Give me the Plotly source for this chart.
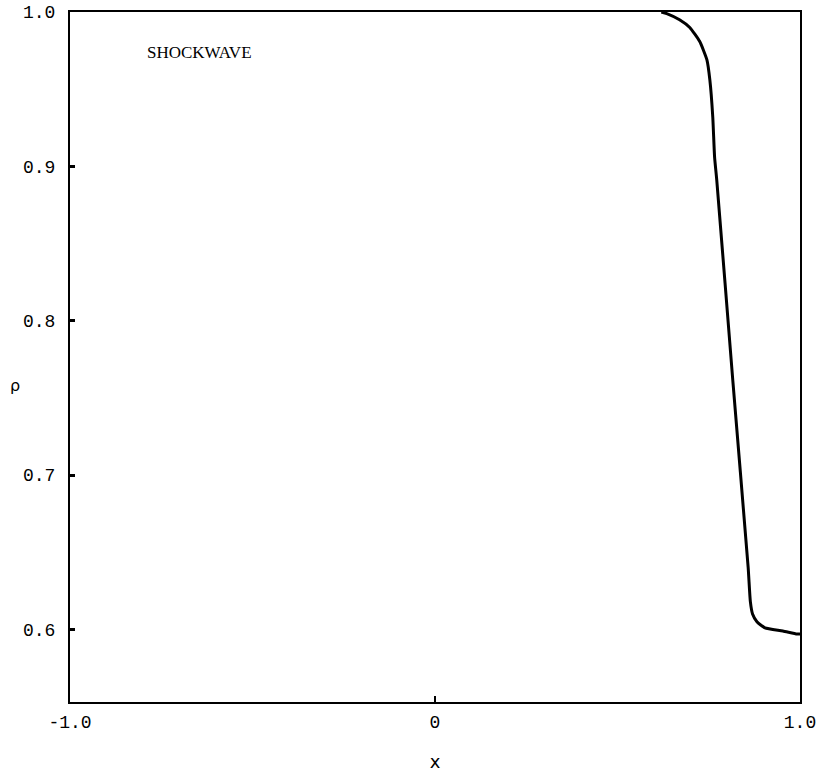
import plotly.graph_objects as go

# Density profile of the shock wave
x_vals = [0.62, 0.635, 0.670, 0.698, 0.725, 0.745, 0.753, 0.761, 0.766, 0.772,
          0.816, 0.858, 0.864, 0.870, 0.882, 0.904, 0.953, 0.992, 1.0]
rho_vals = [1.0, 0.999, 0.995, 0.990, 0.981, 0.969, 0.956, 0.932, 0.906, 0.891,
            0.761, 0.640, 0.618, 0.610, 0.605, 0.601, 0.599, 0.597, 0.597]

x_ticks = [-1.0, 0.0, 1.0]
x_tick_labels = ["-1.0", "0", "1.0"]
y_ticks = [0.6, 0.7, 0.8, 0.9, 1.0]
y_tick_labels = ["0.6", "0.7", "0.8", "0.9", "1.0"]

fig = go.Figure()
fig.add_trace(go.Scatter(x=x_vals, y=rho_vals, mode="lines",
                         line=dict(color="black", width=3, shape="spline", smoothing=0.5),
                         showlegend=False, hoverinfo="skip"))

tick_font = dict(family="Liberation Mono", size=18, color="black")

fig.update_layout(
    width=821, height=775,
    margin=dict(l=70, r=21, t=12, b=73),
    paper_bgcolor="white", plot_bgcolor="white",
    xaxis=dict(range=[-1.0, 1.0], tickvals=x_ticks, ticktext=x_tick_labels,
               automargin=False,
               showgrid=False, zeroline=False, showline=True, linecolor="black",
               linewidth=2, mirror=True, ticks="inside", ticklen=6, tickwidth=2,
               tickcolor="black", tickfont=tick_font, ticklabelstandoff=2,
               title=dict(text="x", font=dict(family="DejaVu Sans", size=18, color="black"),
                          standoff=24)),
    yaxis=dict(range=[0.553, 1.0], tickvals=y_ticks, ticktext=y_tick_labels,
               automargin=False,
               showgrid=False, zeroline=False, showline=True, linecolor="black",
               linewidth=2, mirror=True, ticks="inside", ticklen=5, tickwidth=3,
               tickcolor="black", tickfont=tick_font, ticklabelstandoff=9),
    annotations=[
        dict(text="SHOCKWAVE", xref="x domain", yref="y domain",
             x=(199 - 70) / 730, y=(702 - 52) / 690,
             xanchor="center", yanchor="middle", showarrow=False,
             font=dict(family="Liberation Serif", size=17, color="black")),
        dict(text="ρ", xref="paper", yref="paper",
             x=(15 - 70) / 730, y=(702 - 385) / 690, xanchor="center", yanchor="middle",
             showarrow=False,
             font=dict(family="DejaVu Sans", size=16, color="black")),
    ],
)

fig.write_html("out.html")
